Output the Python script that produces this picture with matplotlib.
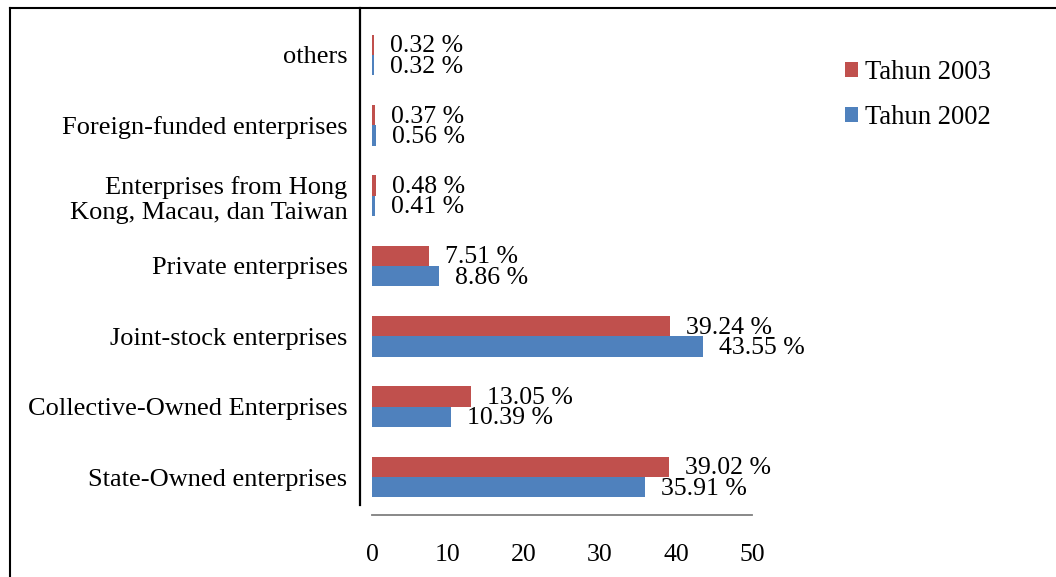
import matplotlib
matplotlib.use("Agg")
import matplotlib.pyplot as plt
from matplotlib.patches import Patch
from matplotlib.lines import Line2D

plt.rcParams['font.family'] = ['Liberation Serif', 'DejaVu Serif']

categories = ["State-Owned enterprises", "Collective-Owned Enterprises",
              "Joint-stock enterprises", "Private enterprises",
              "Enterprises from Hong\nKong, Macau, dan Taiwan",
              "Foreign-funded enterprises", "others"]
values_2003 = [39.02, 13.05, 39.24, 7.51, 0.48, 0.37, 0.32]
values_2002 = [35.91, 10.39, 43.55, 8.86, 0.41, 0.56, 0.32]
series_names = ["Tahun 2003", "Tahun 2002"]
xticks = [0, 10, 20, 30, 40, 50]

red = "#C0504D"
blue = "#4F81BD"

W, H = 1056, 577
fig = plt.figure(figsize=(W / 100, H / 100), dpi=100)
ax = fig.add_axes([372 / W, (H - 505) / H, (752 - 372) / W, (505 - 8) / H])

ypos = list(range(len(categories)))
bh = 0.29
ax.barh([y + bh / 2 for y in ypos], values_2003, height=bh, color=red, zorder=3)
ax.barh([y - bh / 2 for y in ypos], values_2002, height=bh, color=blue, zorder=3)

fs = 18.5
dx = 2.1
for y, v in zip(ypos, values_2003):
    ax.text(v + dx, y + bh / 2 - 0.02, f"{v:.2f} %", va="center", ha="left", fontsize=fs)
for y, v in zip(ypos, values_2002):
    ax.text(v + dx, y - bh / 2 - 0.02, f"{v:.2f} %", va="center", ha="left", fontsize=fs)

ax.set_xlim(0, 50)
ax.set_ylim(-0.398, 6.668)
ax.set_yticks(ypos)
ax.set_yticklabels(categories)
ax.set_xticks(xticks)
ax.set_xticklabels([str(t) for t in xticks])
ax.tick_params(axis="y", length=0, pad=9, labelsize=19)
ax.tick_params(axis="x", length=0, pad=21, labelsize=fs)
for lab in ax.get_yticklabels():
    lab.set_multialignment("center")

for s in ["top", "right"]:
    ax.spines[s].set_visible(False)
ax.spines["left"].set_position(("outward", 8.6))
ax.spines["left"].set_linewidth(1.6)
ax.spines["left"].set_color("black")
ax.spines["bottom"].set_position(("outward", 7.2))
ax.spines["bottom"].set_linewidth(1.3)
ax.spines["bottom"].set_color("#7f7f7f")

handles = [Patch(facecolor=red), Patch(facecolor=blue)]
fig.legend(handles, series_names, loc="upper left", bbox_to_anchor=(821 / W, 1 - 36 / H),
           frameon=False, fontsize=19.2, handlelength=0.5, handleheight=0.5,
           handletextpad=0.25, labelspacing=0.75)

# page border lines
fig.add_artist(Line2D([10 / W, 1], [1 - 8 / H, 1 - 8 / H], color="black", lw=1.5))
fig.add_artist(Line2D([10 / W, 10 / W], [0, 1 - 8 / H], color="black", lw=1.5))

fig.savefig("out.png", dpi=100)
